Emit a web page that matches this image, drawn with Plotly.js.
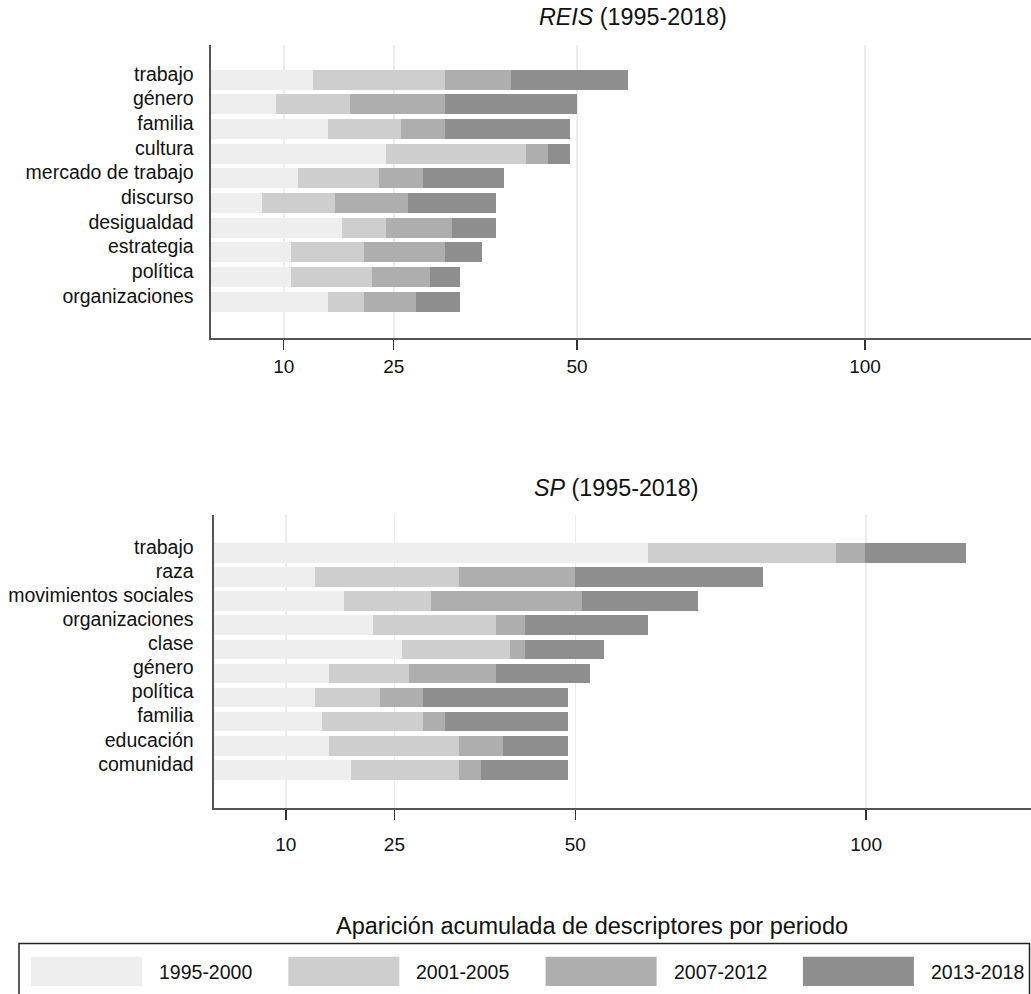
<!DOCTYPE html>
<html>
<head>
<meta charset="utf-8">
<script src="https://cdn.plot.ly/plotly-3.0.1.min.js"></script>
<style>
html,body{margin:0;padding:0;background:#fff;}
#chart{width:1031px;height:994px;}
</style>
</head>
<body>
<div id="chart"></div>
<script>
// ---------- DATA ----------
const periods = ['1995-2000', '2001-2005', '2007-2012', '2013-2018'];

const reisCategories = ['trabajo', 'género', 'familia', 'cultura', 'mercado de trabajo',
  'discurso', 'desigualdad', 'estrategia', 'política', 'organizaciones'];
const reis1995 = [14, 9, 16, 24, 12, 7, 18, 11, 11, 16];
const reis2001 = [18, 10, 10, 19, 11, 10, 6, 10, 11, 5];
const reis2007 = [9, 13, 6, 3, 6, 10, 9, 11, 8, 7];
const reis2013 = [16, 18, 17, 3, 11, 12, 6, 5, 4, 6];

const spCategories = ['trabajo', 'raza', 'movimientos sociales', 'organizaciones', 'clase',
  'género', 'política', 'familia', 'educación', 'comunidad'];
const sp1995 = [60, 14, 18, 22, 26, 16, 14, 15, 16, 19];
const sp2001 = [26, 20, 12, 17, 15, 11, 9, 14, 18, 15];
const sp2007 = [4, 16, 21, 4, 2, 12, 6, 3, 6, 3];
const sp2013 = [14, 26, 16, 17, 11, 13, 20, 17, 9, 12];

const tickLabels = ['10', '25', '50', '100'];
const reisTickValues = [10, 25, 50, 89.3];
const spTickValues = [10, 25, 50, 90.2];

const legendTitle = 'Aparición acumulada de descriptores por periodo';
const reisTitle = '<i>REIS</i> (1995-2018)';
const spTitle = '<i>SP</i> (1995-2018)';

// ---------- STYLE ----------
const colors = ['#eeeeee', '#cecece', '#aeaeae', '#8e8e8e'];
const FONT = 'Liberation Sans, Arial, Helvetica, sans-serif';
const W = 1031, H = 994;

const reisSeries = [reis1995, reis2001, reis2007, reis2013];
const spSeries = [sp1995, sp2001, sp2007, sp2013];

const traces = [];
periods.forEach((p, i) => {
  traces.push({
    type: 'bar', orientation: 'h', name: p,
    x: reisSeries[i], y: reisCategories,
    xaxis: 'x', yaxis: 'y',
    marker: {color: colors[i], line: {width: 0}},
    showlegend: false
  });
});
periods.forEach((p, i) => {
  traces.push({
    type: 'bar', orientation: 'h', name: p,
    x: spSeries[i], y: spCategories,
    xaxis: 'x2', yaxis: 'y2',
    marker: {color: colors[i], line: {width: 0}},
    showlegend: false
  });
});

function px(x) { return x / W; }
function py(y) { return 1 - y / H; }

const xCommon = {
  ticks: 'outside', ticklen: 10, tickwidth: 1.3, tickcolor: '#333',
  showline: true, linecolor: '#555', linewidth: 2,
  showgrid: true, gridcolor: '#ececec', gridwidth: 1.5,
  zeroline: false, fixedrange: true,
  tickfont: {family: FONT, size: 19, color: '#111'},
  ticktext: tickLabels
};
const yCommon = {
  type: 'category', autorange: false,
  showline: true, linecolor: '#555', linewidth: 2,
  ticks: '', showgrid: false, zeroline: false, fixedrange: true,
  tickfont: {family: FONT, size: 19.5, color: '#111'},
  ticklabelshift: 6
};

const x0Top = 210.5, scaleTop = 7.33;
const x0Bot = 213.5, scaleBot = 7.235;

const layout = {
  width: W, height: H,
  margin: {l: 0, r: 0, t: 0, b: 0},
  paper_bgcolor: '#fff', plot_bgcolor: '#fff',
  barmode: 'stack', bargap: 0.19, showlegend: false,
  font: {family: FONT, color: '#111', size: 19},
  xaxis: Object.assign({}, xCommon, {
    domain: [px(x0Top), 1], range: [0, (W - x0Top) / scaleTop],
    tickvals: reisTickValues, anchor: 'y', ticklabelstandoff: 0
  }),
  yaxis: Object.assign({}, yCommon, {
    domain: [py(337.7), py(45)], range: [10.455, -1.41],
    anchor: 'x', ticklabelstandoff: 11
  }),
  xaxis2: Object.assign({}, xCommon, {
    domain: [px(x0Bot), 1], range: [0, (W - x0Bot) / scaleBot],
    tickvals: spTickValues, anchor: 'y2', ticklabelstandoff: 8
  }),
  yaxis2: Object.assign({}, yCommon, {
    domain: [py(807.7), py(515)], range: [10.57, -1.57],
    anchor: 'x2', ticklabelstandoff: 14
  }),
  annotations: [
    {text: reisTitle, xref: 'paper', yref: 'paper', x: px(633), y: py(17),
     xanchor: 'center', yanchor: 'middle', showarrow: false,
     font: {family: FONT, size: 23.3, color: '#111'}},
    {text: spTitle, xref: 'paper', yref: 'paper', x: px(616), y: py(488),
     xanchor: 'center', yanchor: 'middle', showarrow: false,
     font: {family: FONT, size: 23.3, color: '#111'}},
    {text: legendTitle, xref: 'paper', yref: 'paper', x: px(591.5), y: py(926),
     xanchor: 'center', yanchor: 'middle', showarrow: false,
     font: {family: FONT, size: 23.5, color: '#111'}}
  ],
  shapes: [
    {type: 'rect', xref: 'paper', yref: 'paper', x0: px(19), x1: px(1029.5),
     y0: py(1000), y1: py(943.5), line: {color: '#222', width: 1.5}, fillcolor: 'rgba(0,0,0,0)'}
  ]
};

periods.forEach((p, i) => {
  const sx = 31 + 257.3 * i;
  layout.shapes.push({
    type: 'rect', xref: 'paper', yref: 'paper',
    x0: px(sx), x1: px(sx + 111), y0: py(986), y1: py(956.7),
    line: {width: 0}, fillcolor: colors[i]
  });
  layout.annotations.push({
    text: p, xref: 'paper', yref: 'paper', x: px(sx + 126), y: py(971.5),
    xanchor: 'left', yanchor: 'middle', showarrow: false,
    font: {family: FONT, size: 19.5, color: '#111'}
  });
});

Plotly.newPlot('chart', traces, layout, {displayModeBar: false, staticPlot: true});
</script>
</body>
</html>
